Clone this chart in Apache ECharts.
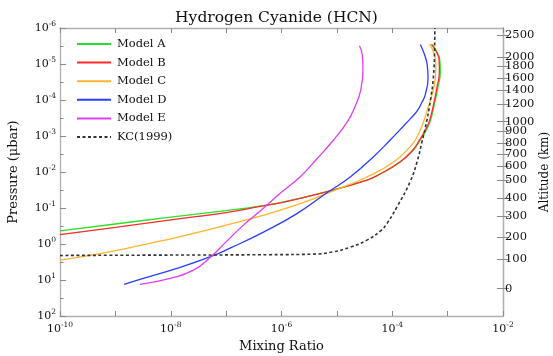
<!DOCTYPE html>
<html><head><meta charset="utf-8">
<script src="https://cdn.jsdelivr.net/npm/echarts@6/dist/echarts.min.js"></script>
<style>html,body{margin:0;padding:0;background:#fff}#c{width:553px;height:356px}</style>
</head><body><div id="c"></div>
<script>
const seriesNames = ['Model A', 'Model B', 'Model C', 'Model D', 'Model E', 'KC(1999)'];

const mixA = [1e-10, 1e-9, 1e-8, 1e-7, 4.1e-7, 1e-6, 5.0e-6, 3.5e-5, 6.1e-5, 1.4e-4, 2.43e-4, 3.21e-4, 3.95e-4, 4.86e-4, 5.74e-4, 6.65e-4, 7.38e-4, 7.23e-4, 6.25e-4, 5.22e-4];
const presA = [0.43, 0.278, 0.179, 0.118, 0.0883, 0.0697, 0.0391, 0.0167, 0.01135, 5.26e-3, 2.44e-3, 1.29e-3, 7.69e-4, 3.80e-4, 1.36e-4, 4.59e-5, 1.64e-5, 7.62e-6, 4.29e-6, 2.86e-6];

const mixB = [1e-10, 1e-9, 1e-8, 1e-7, 4.1e-7, 1e-6, 5.0e-6, 3.5e-5, 6.0e-5, 1.37e-4, 2.35e-4, 3.1e-4, 3.8e-4, 4.7e-4, 5.55e-4, 6.4e-4, 7.1e-4, 7.0e-4, 6.1e-4, 5.1e-4];
const presB = [0.548, 0.344, 0.214, 0.134, 0.0905, 0.0705, 0.0395, 0.0168, 0.0114, 5.3e-3, 2.45e-3, 1.3e-3, 7.7e-4, 3.8e-4, 1.36e-4, 4.6e-5, 1.64e-5, 7.6e-6, 4.3e-6, 2.86e-6];

const mixC = [1e-10, 4.11e-10, 1.84e-9, 6.41e-9, 1.48e-8, 1.18e-7, 4.12e-7, 2.18e-6, 7.59e-6, 3.49e-5, 1.06e-4, 2.11e-4, 2.61e-4, 3.34e-4, 4.30e-4, 5.28e-4, 6.0e-4, 6.12e-4, 5.62e-4, 4.72e-4];
const presC = [2.81, 1.98, 1.26, 0.832, 0.624, 0.280, 0.1675, 0.0752, 0.0360, 0.01377, 5.26e-3, 1.97e-3, 1.29e-3, 5.96e-4, 1.88e-4, 6.75e-5, 2.42e-5, 9.86e-6, 4.86e-6, 2.82e-6];

const mixD = [1.44e-9, 3.20e-9, 1.29e-8, 5.36e-8, 1.18e-7, 4.72e-7, 1.90e-6, 6.61e-6, 1.74e-5, 4.59e-5, 9.20e-5, 1.40e-4, 2.11e-4, 2.80e-4, 3.48e-4, 3.95e-4, 4.43e-4, 4.25e-4, 3.72e-4, 3.21e-4];
const presD = [13.3, 9.08, 4.79, 2.22, 1.30, 0.467, 0.143, 0.0377, 0.01377, 3.75e-3, 1.29e-3, 6.56e-4, 3.34e-4, 2.04e-4, 1.12e-4, 7.05e-5, 2.42e-5, 9.86e-6, 4.86e-6, 2.86e-6];

const mixE = [2.79e-9, 9.73e-9, 2.56e-8, 5.36e-8, 1.03e-7, 2.06e-7, 4.12e-7, 9.46e-7, 2.18e-6, 4.33e-6, 8.69e-6, 1.54e-5, 2.15e-5, 2.70e-5, 2.96e-5, 2.87e-5, 2.56e-5];
const presE = [13.3, 9.08, 5.33, 2.22, 0.832, 0.299, 0.122, 0.0391, 0.0135, 4.35e-3, 1.29e-3, 4.06e-4, 1.46e-4, 5.21e-5, 1.45e-5, 5.53e-6, 3.11e-6];

const mixKC = [1e-10, 1e-8, 6.24e-7, 3.74e-6, 8.59e-6, 1.74e-5, 3.49e-5, 6.07e-5, 8.04e-5, 1.22e-4, 2.11e-4, 2.80e-4, 3.44e-4, 3.95e-4, 4.86e-4, 5.58e-4, 5.82e-4, 5.87e-4];
const presKC = [2.08, 2.03, 1.98, 1.91, 1.65, 1.22, 0.780, 0.439, 0.267, 0.0923, 0.0184, 5.26e-3, 1.46e-3, 5.96e-4, 1.08e-4, 1.95e-5, 3.53e-6, 1e-6];

// right axis: altitude (km) tick labels and the pressure (μbar) at which each sits
const altitudeKm = [0, 100, 200, 300, 400, 500, 600, 700, 800, 900, 1000, 1200, 1400, 1600, 1800, 2000, 2500];
const altitudePressure = [17.4, 2.69, 0.638, 0.170, 0.0525, 0.0170, 6.76e-3, 3.16e-3, 1.55e-3, 7.24e-4, 3.98e-4, 1.32e-4, 5.25e-5, 2.45e-5, 1.17e-5, 6.46e-6, 1.55e-6];

const colors = ['#2be02b', '#ff2a2a', '#ffb32a', '#2a3cff', '#e03cf0', '#333333'];
const FONT = 'DejaVu Serif';
const TXT = '#111';
const AX = '#b0b0b0';
const TK = '#8a8a8a';

function pairs(m, p) { return m.map((v, i) => [v, p[i]]); }
const seriesData = [pairs(mixA, presA), pairs(mixB, presB), pairs(mixC, presC), pairs(mixD, presD), pairs(mixE, presE), pairs(mixKC, presKC)];

const supRich = {
  b: { fontFamily: FONT, fontSize: 11, lineHeight: 16, color: TXT },
  s: { fontFamily: FONT, fontSize: 7.5, color: TXT, verticalAlign: 'top' }
};
function powLabel(v, evenOnly) {
  const e = Math.round(Math.log10(v));
  if (evenOnly && e % 2 !== 0) return '';
  return '{b|10}{s|' + e + '}';
}
const altLog = altitudePressure.map(p => Math.log10(p));
function altLabel(v) {
  let best = 0, d = Infinity;
  altLog.forEach((l, i) => { const dd = Math.abs(l - v); if (dd < d) { d = dd; best = i; } });
  return String(altitudeKm[best]);
}

const chart = echarts.init(document.getElementById('c'), null, { renderer: 'canvas' });
chart.setOption({
  animation: false,
  backgroundColor: '#fff',
  title: {
    text: 'Hydrogen Cyanide (HCN)', left: 'center', top: 5,
    textStyle: { fontFamily: FONT, fontSize: 15.5, fontWeight: 'normal', color: TXT }
  },
  legend: {
    data: seriesNames, orient: 'vertical', left: 76, top: 38, padding: 0,
    itemWidth: 34, itemHeight: 12, itemGap: 6.6,
    itemStyle: { opacity: 0 },
    textStyle: { fontFamily: FONT, fontSize: 11.5, color: TXT, padding: [0, 0, 0, 1] }
  },
  grid: { left: 60, right: 50, top: 28, bottom: 40, outerBoundsMode: 'none', containLabel: false },
  xAxis: [
    {
      type: 'log', logBase: 10, min: 1e-10, max: 1e-2, interval: 1, position: 'bottom',
      name: 'Mixing Ratio', nameLocation: 'middle', nameGap: 24,
      nameTextStyle: { fontFamily: FONT, fontSize: 13, color: TXT },
      axisLine: { onZero: false, lineStyle: { color: AX, width: 1.3 } },
      axisTick: { inside: true, length: 5, lineStyle: { color: TK } },
      axisLabel: { margin: 5, formatter: v => powLabel(v, true), rich: supRich },
      splitLine: { show: false }
    },
    {
      type: 'log', logBase: 10, min: 1e-10, max: 1e-2, interval: 1, position: 'top',
      axisLine: { onZero: false, lineStyle: { color: AX, width: 1.3 } },
      axisTick: { inside: true, length: 5, lineStyle: { color: TK } },
      axisLabel: { show: false }, splitLine: { show: false }
    }
  ],
  yAxis: [
    {
      type: 'log', logBase: 10, min: 1e-6, max: 1e2, interval: 1, inverse: true, position: 'left',
      name: 'Pressure (\u03bcbar)', nameLocation: 'middle', nameGap: 40, nameRotate: 90,
      nameTextStyle: { fontFamily: FONT, fontSize: 13, color: TXT },
      axisLine: { onZero: false, lineStyle: { color: AX, width: 1.3 } },
      axisTick: { inside: true, length: 6, lineStyle: { color: TK } },
      axisLabel: { margin: 4, formatter: v => powLabel(v, false), rich: supRich },
      splitLine: { show: false }
    },
    {
      type: 'value', min: -6, max: 2, interval: 0.5, inverse: true, position: 'left',
      axisLine: { show: false, onZero: false },
      axisTick: { inside: true, length: 3.5, lineStyle: { color: TK } },
      axisLabel: { show: false }, splitLine: { show: false }
    },
    {
      type: 'value', min: -6, max: 2, inverse: true, position: 'right',
      axisLine: { show: true, onZero: false, lineStyle: { color: AX, width: 1.3 } },
      axisTick: { show: true, inside: true, length: 6, customValues: altLog, lineStyle: { color: TK } },
      axisLabel: { show: false }, splitLine: { show: false }
    },
    {
      type: 'value', min: -6, max: 2, inverse: true, position: 'right',
      name: 'Altitude (km)', nameLocation: 'middle', nameGap: 36, nameRotate: 90, nameMoveOverlap: false,
      nameTextStyle: { fontFamily: FONT, fontSize: 12, color: TXT },
      axisLine: { show: true, onZero: false, lineStyle: { color: AX, width: 1.3 } },
      axisTick: { show: true, inside: false, length: 6, customValues: altLog, lineStyle: { color: TK } },
      axisLabel: { show: true, margin: 2, customValues: altLog, formatter: altLabel,
        fontFamily: FONT, fontSize: 11.5, color: TXT },
      splitLine: { show: false }
    }
  ],
  series: seriesNames.map((n, i) => ({
    name: n, type: 'line', xAxisIndex: 0, yAxisIndex: 0,
    data: seriesData[i], symbol: 'none', showSymbol: false, smooth: 0.5,
    lineStyle: { color: colors[i], width: i === 5 ? 1.6 : 1.3, type: i === 5 ? [3, 2.5] : 'solid' },
    itemStyle: { color: colors[i] }
  }))
});
</script></body></html>
